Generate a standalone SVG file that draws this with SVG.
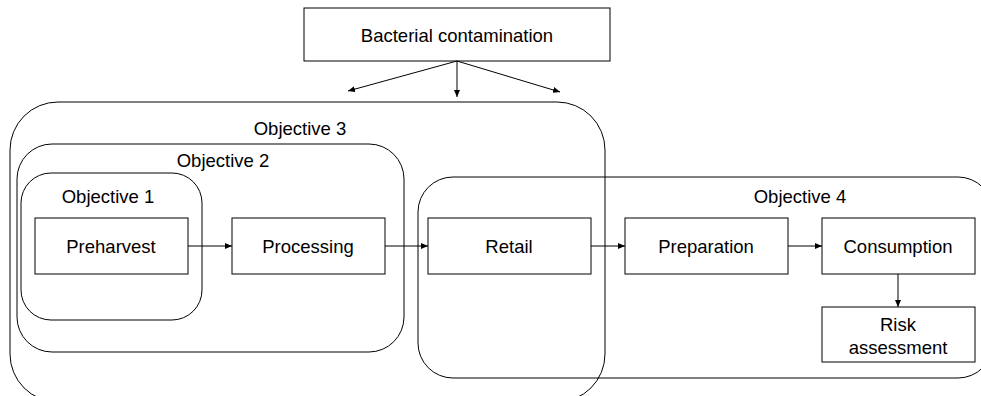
<svg xmlns="http://www.w3.org/2000/svg" width="981" height="396" viewBox="0 0 981 396">
<style>
.box{fill:#fff;stroke:#000;stroke-width:1}
.grp{fill:none;stroke:#000;stroke-width:1}
.t{font-family:"Liberation Sans",Arial,sans-serif;font-size:18.5px;fill:#000;text-anchor:middle}
.c{stroke:#000;stroke-width:1;fill:none;marker-end:url(#ah)}
</style>
<defs>
<marker id="ah" markerWidth="7" markerHeight="6" refX="7" refY="3" orient="auto" markerUnits="userSpaceOnUse">
<path d="M0,0 L7,3 L0,6 Z" fill="#000"/>
</marker>
</defs>
<rect width="981" height="396" fill="#fff"/>
<g id="objective3"><rect class="grp" x="10" y="102" width="595" height="300" rx="48" ry="48"/><text class="t" x="300" y="135">Objective 3</text></g>
<g id="objective2"><rect class="grp" x="17" y="144" width="387" height="208" rx="35" ry="35"/><text class="t" x="223" y="167">Objective 2</text></g>
<g id="objective1"><rect class="grp" x="21" y="173" width="181" height="147" rx="30" ry="30"/><text class="t" x="108" y="203">Objective 1</text></g>
<g id="objective4"><rect class="grp" x="418" y="177" width="575" height="201" rx="35" ry="35"/><text class="t" x="800" y="203">Objective 4</text></g>
<g id="bacterial"><rect class="box" x="304" y="8" width="306" height="53"/><text class="t" x="457" y="42">Bacterial contamination</text></g>
<g id="preharvest"><rect class="box" x="35" y="218" width="153" height="56"/><text class="t" x="111" y="253">Preharvest</text></g>
<g id="processing"><rect class="box" x="232" y="218" width="153" height="56"/><text class="t" x="308" y="253">Processing</text></g>
<g id="retail"><rect class="box" x="428" y="218" width="163" height="56"/><text class="t" x="509" y="253">Retail</text></g>
<g id="preparation"><rect class="box" x="625" y="218" width="163" height="56"/><text class="t" x="706" y="253">Preparation</text></g>
<g id="consumption"><rect class="box" x="822" y="218" width="153" height="56"/><text class="t" x="898" y="253">Consumption</text></g>
<g id="risk"><rect class="box" x="822" y="307" width="153" height="55"/><text class="t" x="898" y="331">Risk</text><text class="t" x="898" y="354">assessment</text></g>
<g id="connectors">
<line class="c" x1="457" y1="61" x2="348" y2="91"/>
<line class="c" x1="457" y1="61" x2="457" y2="97"/>
<line class="c" x1="457" y1="61" x2="560" y2="92"/>
<line class="c" x1="188" y1="246" x2="232" y2="246"/>
<line class="c" x1="385" y1="246" x2="428" y2="246"/>
<line class="c" x1="591" y1="246" x2="625" y2="246"/>
<line class="c" x1="788" y1="246" x2="822" y2="246"/>
<line class="c" x1="898" y1="274" x2="898" y2="307"/>
</g>
</svg>
